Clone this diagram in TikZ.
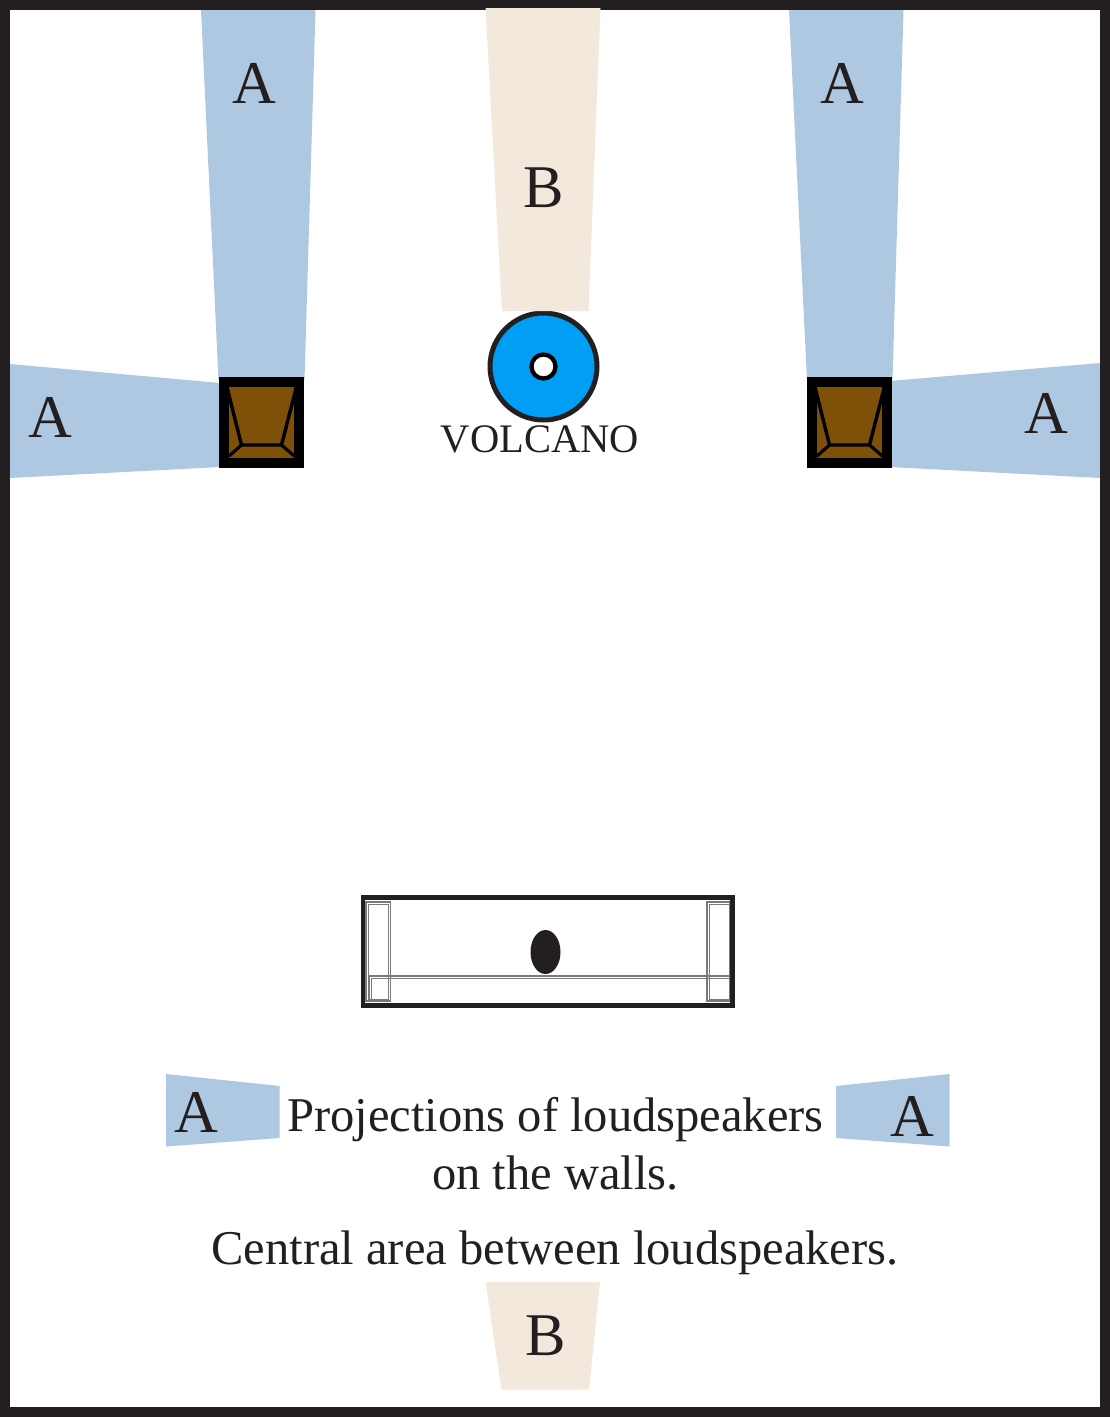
\documentclass[tikz,border=0pt]{standalone}
\usepackage{fontspec}
\setmainfont{Liberation Serif}
\definecolor{projblue}{HTML}{AEC8E1}
\definecolor{areabeige}{HTML}{F2E9DC}
\definecolor{ink}{HTML}{231F20}
\definecolor{brownbox}{HTML}{7F5108}
\definecolor{volcblue}{HTML}{009FF5}
\tikzset{
  bigletter/.style={inner sep=0pt,text=ink,font=\fontsize{45.5}{45}\selectfont},
  caption/.style={inner sep=0pt,text=ink,font=\fontsize{36.4}{36}\selectfont},
  thinpair/.style={draw=ink!60,line width=0.9pt},
}
\newcommand{\speaker}[1]{%
  \begin{scope}[xshift=#1*0.75pt]
    \fill[black] (218.7,377) rectangle (304.3,468);
    \fill[brownbox] (229,387.3) rectangle (294.3,457.7);
    \begin{scope}
      \clip (229,387.3) rectangle (294.3,457.7);
      \draw[black,line width=2.6pt,line join=miter]
        (227,387.3) -- (241.5,445) -- (281.5,445) -- (296.3,387.3);
      \draw[black,line width=2.4pt] (241.5,445) -- (229,456);
      \draw[black,line width=2.4pt] (281.5,445) -- (294.3,456);
    \end{scope}
  \end{scope}}
\begin{document}
\begin{tikzpicture}[x=0.75pt,y=-0.75pt]
\useasboundingbox (0,0) rectangle (1110,1418);
\fill[white] (0,0) rectangle (1110,1418);
% wall projections
\fill[projblue] (201,10) -- (315.5,10) -- (304.5,380) -- (218.5,380) -- cycle;
\fill[projblue] (789,10) -- (903.5,10) -- (892.5,380) -- (807,380) -- cycle;
\fill[projblue] (10,364) -- (220,383) -- (220,467) -- (10,478) -- cycle;
\fill[projblue] (890,381) -- (1100,363) -- (1100,478) -- (890,467) -- cycle;
% legend swatches
\fill[projblue] (166,1074) -- (279.5,1086) -- (279.5,1138) -- (166,1146.5) -- cycle;
\fill[projblue] (836,1086) -- (949.5,1074) -- (949.5,1146.5) -- (836,1138) -- cycle;
\fill[areabeige] (485.5,1282) -- (600,1282) -- (589,1389.5) -- (501.5,1389.5) -- cycle;
% speakers
\speaker{0}
\speaker{588}
% volcano
\draw[ink,fill=volcblue,line width=3.75pt] (543.5,366.5) circle (53.5);
\draw[black,fill=white,line width=3.2pt] (543.5,366.5) circle (12);
% sofa
\draw[thinpair] (366,902) rectangle (390.5,1001);
\draw[thinpair,line width=0.5pt] (368,904.5) rectangle (388.5,999);
\draw[thinpair] (707,902) rectangle (730,1001);
\draw[thinpair,line width=0.5pt] (709,904.5) rectangle (730,999);
\draw[thinpair] (369,1002) -- (369,976) -- (730,976);
\draw[thinpair,line width=0.5pt] (371.5,1002) -- (371.5,978) -- (730,978);
\draw[ink,line width=3.4pt] (363,897.5) rectangle (732.5,1005.5);
\fill[ink] (545.5,952) ellipse (15 and 22);
% frame
\draw[ink,line width=7.5pt] (5,5) rectangle (1105,1412);
\fill[areabeige] (485.5,8) -- (600.5,8) -- (588.5,311) -- (502,311) -- cycle;
% text
\node[bigletter] (a1) at (254,83.5) {A};
\node[bigletter] (a2) at (842,83.5) {A};
\node[bigletter] (a3) at (50,417.5) {A};
\node[bigletter] (a4) at (1046,413.5) {A};
\node[bigletter] (b1) at (543.5,187.5) {B};
\node[bigletter] (a5) at (196,1112.5) {A};
\node[bigletter] (a6) at (912,1116.5) {A};
\node[bigletter] (b2) at (546,1335.5) {B};
\node[inner sep=0pt,text=ink,font=\fontsize{30.4}{30}\selectfont] (volc) at (540,439) {VOLCANO};
\node[caption] (c1) at (555.5,1120) {Projections of loudspeakers};
\node[caption] (c2) at (555.5,1173) {on the walls.};
\node[caption] (c3) at (555,1253) {Central area between loudspeakers.};
\end{tikzpicture}
\end{document}
